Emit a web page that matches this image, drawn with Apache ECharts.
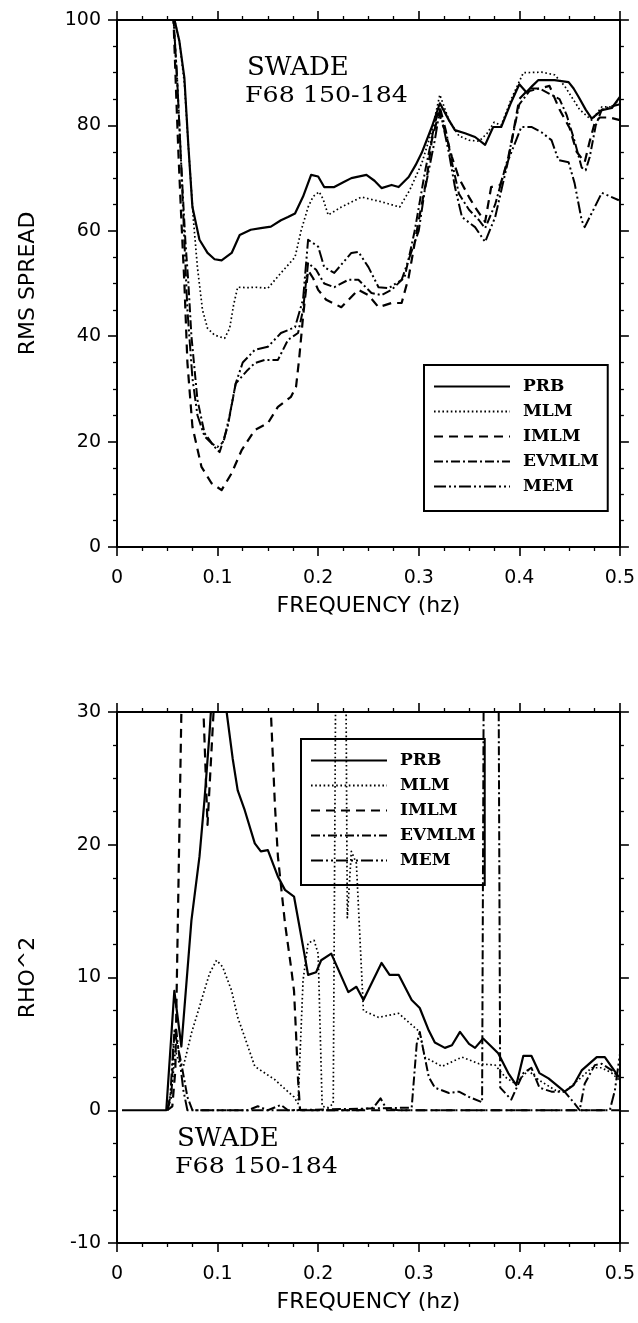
<!DOCTYPE html>
<html>
<head>
<meta charset="utf-8">
<script src="https://cdn.jsdelivr.net/npm/echarts@6/dist/echarts.min.js"></script>
<style>
  html, body { margin: 0; padding: 0; background: #fff; }
  #chart { width: 638px; height: 1323px; }
</style>
</head>
<body>
<div id="chart"></div>
<script>
// SWADE, F68 150-184: directional spreading estimates versus frequency.
const methods = ['PRB', 'MLM', 'IMLM', 'EVMLM', 'MEM'];
const freqTicks = [0, 0.1, 0.2, 0.3, 0.4, 0.5];
const spreadTicks = [0, 20, 40, 60, 80, 100];
const rhoTicks = [-10, 0, 10, 20, 30];

// RMS spread [frequency (hz), spread]
const prbSpread = [[0.056,101],[0.062,96],[0.067,89],[0.071,76],[0.075,64.5],[0.082,58.3],[0.09,55.8],[0.097,54.6],[0.104,54.4],[0.114,55.8],[0.122,59.2],[0.133,60.2],[0.143,60.5],[0.153,60.8],[0.163,62],[0.17,62.6],[0.177,63.3],[0.185,66.5],[0.193,70.6],[0.2,70.3],[0.206,68.3],[0.216,68.3],[0.225,69.2],[0.233,70],[0.248,70.6],[0.256,69.5],[0.263,68.1],[0.273,68.7],[0.28,68.3],[0.29,70.2],[0.297,72.5],[0.303,74.8],[0.313,79.7],[0.321,84.2],[0.33,81],[0.336,79.1],[0.346,78.5],[0.356,77.8],[0.366,76.3],[0.374,79.7],[0.382,79.7],[0.391,84],[0.4,87.8],[0.407,86.3],[0.413,87.5],[0.419,88.6],[0.435,88.6],[0.449,88.2],[0.454,87],[0.459,85.4],[0.466,83],[0.472,81.3],[0.482,82.9],[0.492,83.3],[0.5,85.4]];
const mlmSpread = [[0.056,101],[0.062,96],[0.067,88],[0.071,76],[0.076,62],[0.08,53],[0.085,45],[0.09,41.5],[0.097,40.2],[0.107,39.6],[0.112,41.5],[0.116,46],[0.12,49.3],[0.13,49.2],[0.137,49.3],[0.15,49.1],[0.163,52],[0.177,55],[0.183,60],[0.19,64.5],[0.195,66.5],[0.201,67.4],[0.205,66],[0.21,63],[0.223,64.5],[0.243,66.4],[0.263,65.5],[0.281,64.5],[0.291,67.7],[0.303,72.8],[0.313,79],[0.321,85.8],[0.33,81],[0.34,78],[0.35,77.2],[0.36,77],[0.368,78.5],[0.375,80.6],[0.382,80],[0.392,85],[0.404,90],[0.422,90.1],[0.435,89.6],[0.445,87.5],[0.452,85.4],[0.46,83],[0.472,81],[0.482,83.5],[0.492,83.5],[0.5,85]];
const imlmSpread = [[0.056,101],[0.059,85],[0.061,75],[0.064,62],[0.067,50],[0.07,35],[0.075,22.8],[0.084,15.2],[0.094,12.1],[0.104,10.8],[0.114,14],[0.124,18.4],[0.137,22.2],[0.15,23.5],[0.16,26.6],[0.173,28.5],[0.178,30.4],[0.181,35.5],[0.185,43.7],[0.19,52.5],[0.195,51],[0.2,48.8],[0.208,46.9],[0.223,45.5],[0.24,48.8],[0.25,47.8],[0.26,45.5],[0.273,46.3],[0.283,46.3],[0.29,51.2],[0.3,62],[0.308,70],[0.313,77.2],[0.32,82.3],[0.326,79],[0.333,74],[0.34,70],[0.35,66.4],[0.356,64.5],[0.366,61.7],[0.372,68.3],[0.381,68.7],[0.389,73.4],[0.4,85],[0.41,87],[0.42,87],[0.43,87.5],[0.44,83],[0.45,79.5],[0.457,75],[0.465,73],[0.47,77],[0.475,80.5],[0.48,81.5],[0.49,81.5],[0.5,81]];
const evmlmSpread = [[0.056,101],[0.06,88],[0.064,72],[0.068,58],[0.071,50],[0.074,40],[0.08,27.9],[0.087,21.6],[0.097,19],[0.102,18],[0.11,22.8],[0.118,31],[0.13,33.6],[0.137,34.9],[0.147,35.5],[0.16,35.5],[0.17,39.3],[0.18,40.6],[0.185,45],[0.19,53.9],[0.198,52.6],[0.206,50],[0.216,49.3],[0.23,50.7],[0.24,50.7],[0.253,48.2],[0.263,47.8],[0.273,48.8],[0.286,51.2],[0.296,60],[0.306,71],[0.316,80.4],[0.321,83.5],[0.327,79],[0.333,73],[0.34,67],[0.35,64],[0.36,62],[0.366,60.5],[0.376,65],[0.389,74],[0.4,84],[0.41,86.5],[0.42,87],[0.43,86],[0.44,85],[0.447,82],[0.455,77],[0.462,72],[0.466,71.5],[0.47,74],[0.476,80],[0.482,83],[0.49,83.5],[0.5,84]];
const memSpread = [[0.056,101],[0.06,88],[0.064,72],[0.067,58],[0.07,45],[0.075,32],[0.08,25],[0.087,21],[0.095,19.5],[0.1,19],[0.106,20],[0.112,25],[0.118,31],[0.125,35],[0.137,37.4],[0.15,38],[0.163,40.6],[0.177,41.7],[0.185,47],[0.19,58.3],[0.2,57],[0.206,53.1],[0.216,52],[0.233,55.8],[0.24,56],[0.25,53.1],[0.26,49.3],[0.27,49.1],[0.283,50.7],[0.3,60],[0.306,67.7],[0.316,77.2],[0.321,83],[0.33,74.8],[0.336,68.3],[0.343,62.6],[0.356,60.7],[0.366,57.9],[0.376,62.6],[0.389,73.4],[0.402,79.7],[0.412,79.7],[0.422,78.7],[0.432,77.2],[0.439,73.4],[0.449,73],[0.455,69],[0.462,62],[0.465,60.7],[0.475,64.5],[0.482,67.2],[0.499,65.8]];

// RHO^2 [frequency (hz), rho^2]
const prbRho = [[0.005,0],[0.049,0],[0.057,9],[0.064,4.8],[0.074,14.3],[0.082,19.1],[0.087,23.4],[0.092,28.4],[0.1,38],[0.109,30],[0.115,26.5],[0.12,24.1],[0.127,22.6],[0.137,20.1],[0.143,19.5],[0.15,19.6],[0.16,17.6],[0.167,16.6],[0.176,16.1],[0.182,13.6],[0.19,10.2],[0.198,10.4],[0.203,11.3],[0.213,11.8],[0.23,8.9],[0.238,9.3],[0.245,8.3],[0.263,11.1],[0.271,10.2],[0.28,10.2],[0.293,8.3],[0.301,7.7],[0.31,6],[0.316,5.1],[0.326,4.7],[0.333,4.9],[0.341,5.9],[0.35,5],[0.356,4.7],[0.364,5.4],[0.379,4.3],[0.389,2.8],[0.397,1.9],[0.404,4.1],[0.412,4.1],[0.42,2.8],[0.429,2.4],[0.445,1.4],[0.454,1.9],[0.462,3],[0.477,4],[0.485,4],[0.499,2.5]];
const mlmRho = [[0.05,0],[0.055,2],[0.058,4.5],[0.062,3.5],[0.066,3.3],[0.074,5.8],[0.084,8.3],[0.092,10.3],[0.099,11.3],[0.105,10.8],[0.114,9],[0.12,7],[0.127,5.5],[0.137,3.3],[0.147,2.8],[0.157,2.3],[0.167,1.6],[0.176,1],[0.18,0.5],[0.185,9.8],[0.19,12.6],[0.196,12.8],[0.2,11.8],[0.204,0.3],[0.21,0.2],[0.215,0.5],[0.218,40],[0.227,40],[0.229,14.5],[0.233,19.5],[0.238,18.6],[0.245,7.5],[0.26,7],[0.28,7.3],[0.301,5.9],[0.306,4],[0.323,3.3],[0.343,4],[0.36,3.5],[0.376,3.4],[0.386,2.5],[0.396,2],[0.409,3],[0.419,2.3],[0.436,1.5],[0.445,1.4],[0.459,2.3],[0.472,3.2],[0.482,3.2],[0.492,2.8],[0.499,2.3]];
const imlmRho = [[0.05,0],[0.055,0.3],[0.058,3],[0.064,30],[0.066,40],[0.083,40],[0.086,30],[0.09,21.5],[0.096,30],[0.099,40],[0.148,40],[0.153,30],[0.157,23],[0.16,19.1],[0.167,14.1],[0.173,10.8],[0.176,9],[0.178,5.8],[0.18,2.3],[0.182,0],[0.5,0]];
const evmlmRho = [[0.05,0],[0.054,1],[0.057,6],[0.06,5],[0.064,3.5],[0.07,1],[0.075,0],[0.13,0],[0.14,0.3],[0.15,0],[0.163,0.4],[0.17,0],[0.293,0.2],[0.298,5],[0.301,5.9],[0.306,4],[0.31,2.5],[0.316,1.7],[0.33,1.3],[0.34,1.4],[0.35,1],[0.363,0.6],[0.365,40],[0.379,40],[0.381,1.7],[0.392,0.8],[0.404,2.8],[0.412,3.2],[0.42,1.7],[0.432,1.4],[0.445,1.4],[0.455,0.5],[0.46,0],[0.465,2],[0.475,3.4],[0.482,3.5],[0.492,3],[0.499,2.5]];
const memRho = [[0.05,0],[0.053,1],[0.056,5],[0.059,6],[0.062,4],[0.066,1.5],[0.07,0],[0.24,0],[0.255,0.2],[0.262,0.9],[0.268,0.1],[0.28,0],[0.49,0],[0.495,1.5],[0.5,4.2]];

// line patterns for each method
const lineLook = {
  PRB:   { type: 'solid', width: 2.2 },
  MLM:   { type: [1.6, 2.6], width: 1.7 },
  IMLM:  { type: [9, 6], width: 2.2 },
  EVMLM: { type: [9, 3, 2, 3], width: 2 },
  MEM:   { type: [12, 3, 2, 3, 2, 3], width: 2 }
};

const spreadData = { PRB: prbSpread, MLM: mlmSpread, IMLM: imlmSpread, EVMLM: evmlmSpread, MEM: memSpread };
const rhoData = { PRB: prbRho, MLM: mlmRho, IMLM: imlmRho, EVMLM: evmlmRho, MEM: memRho };

const SANS = 'DejaVu Sans';
const SERIF = 'DejaVu Serif';
const INK = '#000';

function xAxisPair(gridIndex) {
  const common = {
    type: 'value', gridIndex, min: freqTicks[0], max: freqTicks[freqTicks.length - 1],
    interval: freqTicks[1] - freqTicks[0],
    axisLine: { show: true, onZero: false, lineStyle: { color: INK, width: 2 } },
    axisTick: { show: true, length: 9, lineStyle: { color: INK, width: 1.6 } },
    minorTick: { show: true, splitNumber: 4, length: 4, lineStyle: { color: INK, width: 1.3 } },
    splitLine: { show: false }
  };
  return [
    Object.assign({}, common, {
      position: 'bottom',
      name: 'FREQUENCY (hz)', nameLocation: 'middle', nameGap: 48,
      nameTextStyle: { fontFamily: SANS, fontSize: 22, color: INK },
      axisLabel: { show: true, margin: 22, fontFamily: SANS, fontSize: 19, color: INK }
    }),
    Object.assign({}, common, { position: 'top', axisLabel: { show: false } })
  ];
}

function yAxisPair(gridIndex, ticks, name) {
  const common = {
    type: 'value', gridIndex, min: ticks[0], max: ticks[ticks.length - 1],
    interval: ticks[1] - ticks[0],
    axisLine: { show: true, onZero: false, lineStyle: { color: INK, width: 2 } },
    axisTick: { show: true, length: 9, lineStyle: { color: INK, width: 1.6 } },
    minorTick: { show: true, splitNumber: 4, length: 4, lineStyle: { color: INK, width: 1.3 } },
    splitLine: { show: false }
  };
  return [
    Object.assign({}, common, {
      position: 'left',
      name, nameLocation: 'middle', nameGap: 78,
      nameTextStyle: { fontFamily: SANS, fontSize: 22, color: INK },
      axisLabel: { show: true, margin: 16, fontFamily: SANS, fontSize: 19, color: INK }
    }),
    Object.assign({}, common, { position: 'right', axisLabel: { show: false } })
  ];
}

function buildSeries(dataMap, axisIndex) {
  return methods.map(m => ({
    name: m, type: 'line', xAxisIndex: axisIndex, yAxisIndex: axisIndex,
    data: dataMap[m], symbol: 'none', showSymbol: false, clip: true,
    lineStyle: Object.assign({ color: INK, cap: 'butt', join: 'round' }, lineLook[m]),
    itemStyle: { color: INK },
    emphasis: { disabled: true }, silent: true
  }));
}

function legendAt(left, top) {
  return {
    data: methods, orient: 'vertical', left, top,
    itemWidth: 76, itemHeight: 14, itemGap: 8,
    padding: [13, 9, 16, 9],
    borderColor: INK, borderWidth: 2, backgroundColor: 'transparent',
    selectedMode: false,
    itemStyle: { opacity: 0 },
    textStyle: { fontFamily: SERIF, fontWeight: 'bold', fontSize: 17, color: INK, padding: [0, 0, 0, 8] }
  };
}

function caption(x, y) {
  return [
    { type: 'text', x, y, style: { text: 'SWADE', font: '26px "DejaVu Serif"', fill: INK, verticalAlign: 'middle' } },
    { type: 'text', x: x - 2, y: y + 28, scaleX: 1.15, style: { text: 'F68 150-184', font: '22px "DejaVu Serif"', fill: INK, verticalAlign: 'middle' } }
  ];
}

const chart = echarts.init(document.getElementById('chart'), null, { renderer: 'canvas' });
chart.setOption({
  animation: false,
  backgroundColor: '#fff',
  grid: [
    { left: 117, right: 18, top: 20, height: 527 },
    { left: 117, right: 18, top: 712, height: 531 }
  ],
  xAxis: xAxisPair(0).concat(xAxisPair(1)),
  yAxis: yAxisPair(0, spreadTicks, 'RMS SPREAD').concat(yAxisPair(1, rhoTicks, 'RHO^2')),
  legend: [legendAt(424, 365), legendAt(301, 739)],
  series: buildSeries(spreadData, 0).concat(buildSeries(rhoData, 2)),
  graphic: caption(247, 68).concat(caption(177, 1139))
});
</script>
</body>
</html>
